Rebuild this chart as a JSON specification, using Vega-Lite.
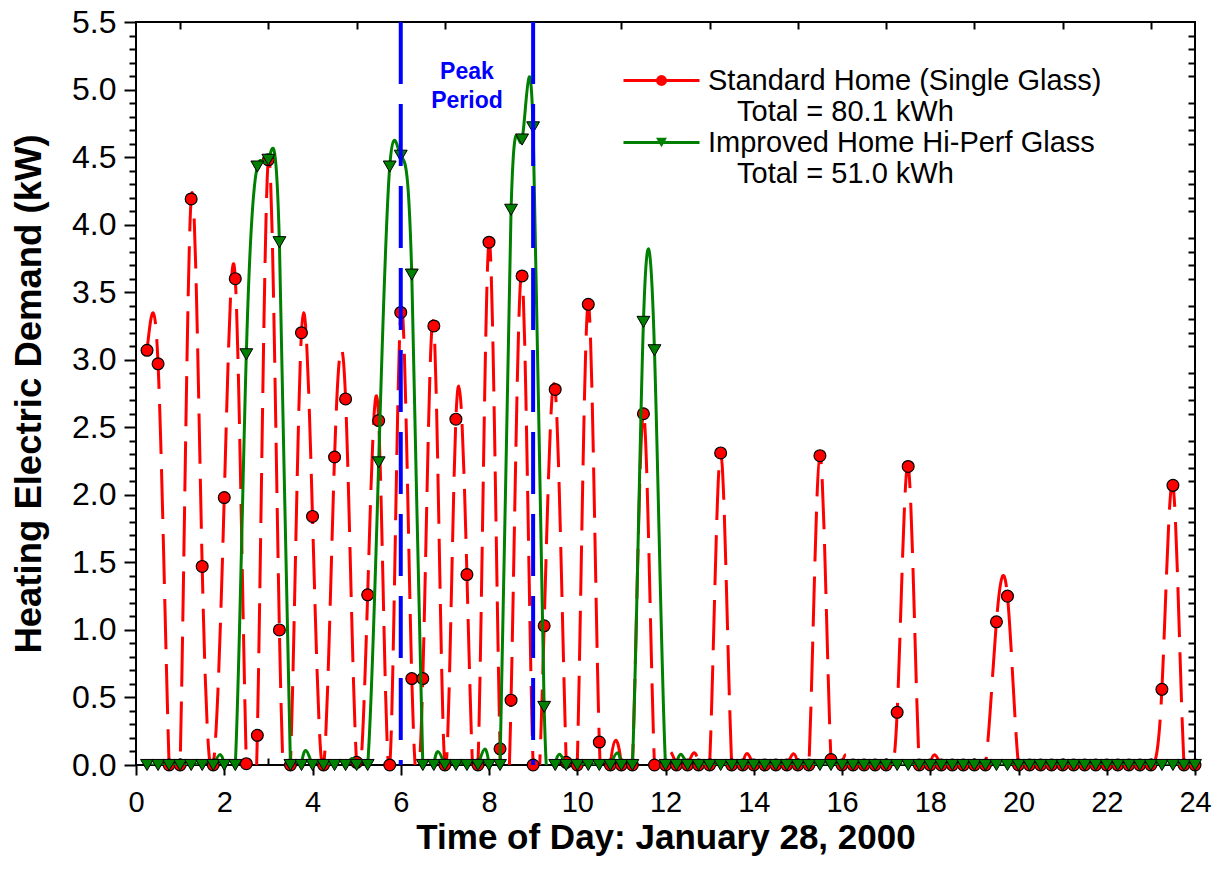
{
  "$schema": "https://vega.github.io/schema/vega-lite/v6.json",
  "width": 1059,
  "height": 743,
  "autosize": {"type": "none"},
  "padding": {"left": 136, "top": 22, "right": 20, "bottom": 114},
  "background": "white",
  "config": {
    "font": "Liberation Sans",
    "view": {"stroke": "black", "strokeWidth": 2},
    "axis": {"grid": false, "domain": false, "tickColor": "black", "tickWidth": 2, "labelColor": "black", "titleColor": "black", "labelFont": "Liberation Sans", "titleFont": "Liberation Sans"}
  },
  "data": {"values": [
    {"t":0.25,"standard":3.07,"improved":0},{"t":0.5,"standard":2.97,"improved":0},{"t":0.75,"standard":0,"improved":0},{"t":1,"standard":0,"improved":0},
    {"t":1.25,"standard":4.19,"improved":0},{"t":1.5,"standard":1.47,"improved":0},{"t":1.75,"standard":0,"improved":0},{"t":2,"standard":1.98,"improved":0},
    {"t":2.25,"standard":3.6,"improved":0},{"t":2.5,"standard":0.01,"improved":3.04},{"t":2.75,"standard":0.22,"improved":4.43},{"t":3,"standard":4.48,"improved":4.48},
    {"t":3.25,"standard":1.0,"improved":3.87},{"t":3.5,"standard":0,"improved":0},{"t":3.75,"standard":3.2,"improved":0},{"t":4,"standard":1.84,"improved":0},
    {"t":4.25,"standard":0,"improved":0},{"t":4.5,"standard":2.28,"improved":0},{"t":4.75,"standard":2.71,"improved":0},{"t":5,"standard":0.02,"improved":0},
    {"t":5.25,"standard":1.26,"improved":0},{"t":5.5,"standard":2.55,"improved":2.24},{"t":5.75,"standard":0,"improved":4.43},{"t":6,"standard":3.35,"improved":4.51},
    {"t":6.25,"standard":0.64,"improved":3.63},{"t":6.5,"standard":0.64,"improved":0},{"t":6.75,"standard":3.25,"improved":0},{"t":7,"standard":0,"improved":0},
    {"t":7.25,"standard":2.56,"improved":0},{"t":7.5,"standard":1.41,"improved":0},{"t":7.75,"standard":0,"improved":0},{"t":8,"standard":3.87,"improved":0},
    {"t":8.25,"standard":0.12,"improved":0},{"t":8.5,"standard":0.48,"improved":4.11},{"t":8.75,"standard":3.62,"improved":4.63},{"t":9,"standard":0,"improved":4.72},
    {"t":9.25,"standard":1.03,"improved":0.43},{"t":9.5,"standard":2.78,"improved":0},{"t":9.75,"standard":0.02,"improved":0},{"t":10,"standard":0,"improved":0},
    {"t":10.25,"standard":3.41,"improved":0},{"t":10.5,"standard":0.17,"improved":0},{"t":10.75,"standard":0,"improved":0},{"t":11,"standard":0,"improved":0},
    {"t":11.25,"standard":0,"improved":0},{"t":11.5,"standard":2.6,"improved":3.28},{"t":11.75,"standard":0,"improved":3.07},{"t":12,"standard":0,"improved":0},
    {"t":12.25,"standard":0,"improved":0},{"t":12.5,"standard":0,"improved":0},{"t":12.75,"standard":0,"improved":0},{"t":13,"standard":0,"improved":0},
    {"t":13.25,"standard":2.31,"improved":0},{"t":13.5,"standard":0,"improved":0},{"t":13.75,"standard":0,"improved":0},{"t":14,"standard":0,"improved":0},
    {"t":14.25,"standard":0,"improved":0},{"t":14.5,"standard":0,"improved":0},{"t":14.75,"standard":0,"improved":0},{"t":15,"standard":0,"improved":0},
    {"t":15.25,"standard":0,"improved":0},{"t":15.5,"standard":2.29,"improved":0},{"t":15.75,"standard":0.04,"improved":0},{"t":16,"standard":0,"improved":0},
    {"t":16.25,"standard":0,"improved":0},{"t":16.5,"standard":0,"improved":0},{"t":16.75,"standard":0,"improved":0},{"t":17,"standard":0,"improved":0},
    {"t":17.25,"standard":0.39,"improved":0},{"t":17.5,"standard":2.21,"improved":0},{"t":17.75,"standard":0,"improved":0},{"t":18,"standard":0,"improved":0},
    {"t":18.25,"standard":0,"improved":0},{"t":18.5,"standard":0,"improved":0},{"t":18.75,"standard":0,"improved":0},{"t":19,"standard":0,"improved":0},
    {"t":19.25,"standard":0,"improved":0},{"t":19.5,"standard":1.06,"improved":0},{"t":19.75,"standard":1.25,"improved":0},{"t":20,"standard":0,"improved":0},
    {"t":20.25,"standard":0,"improved":0},{"t":20.5,"standard":0,"improved":0},{"t":20.75,"standard":0,"improved":0},{"t":21,"standard":0,"improved":0},
    {"t":21.25,"standard":0,"improved":0},{"t":21.5,"standard":0,"improved":0},{"t":21.75,"standard":0,"improved":0},{"t":22,"standard":0,"improved":0},
    {"t":22.25,"standard":0,"improved":0},{"t":22.5,"standard":0,"improved":0},{"t":22.75,"standard":0,"improved":0},{"t":23,"standard":0,"improved":0},
    {"t":23.25,"standard":0.56,"improved":0},{"t":23.5,"standard":2.07,"improved":0},{"t":23.75,"standard":0,"improved":0},{"t":24,"standard":0,"improved":0}
  ]},
  "transform": [{"fold": ["standard", "improved"], "as": ["series", "kw"]}],
  "resolve": {"axis": {"x": "independent", "y": "independent"}},
  "layer": [
    {
      "transform": [{"filter": {"field": "series", "equal": "standard"}}],
      "mark": {"type": "line", "interpolate": "natural", "clip": true, "strokeWidth": 3, "strokeDash": [50, 15]},
      "encoding": {
        "x": {"field": "t", "type": "quantitative", "scale": {"domain": [0, 24], "nice": false, "zero": false},
          "axis": {"orient": "bottom", "values": [0,2,4,6,8,10,12,14,16,18,20,22,24], "tickSize": 10, "labelFontSize": 29, "labelPadding": 13, "labelFlush": false, "labelOverlap": false,
            "title": "Time of Day: January 28, 2000", "titleFontSize": 35, "titleFontWeight": "bold", "titlePadding": 3}},
        "y": {"field": "kw", "type": "quantitative", "scale": {"domain": [0, 5.5], "nice": false},
          "axis": {"orient": "left", "values": [0,0.5,1,1.5,2,2.5,3,3.5,4,4.5,5,5.5], "format": ".1f", "tickSize": 12, "labelFontSize": 32, "labelPadding": 8, "labelFlush": false, "labelOverlap": false,
            "title": "Heating Electric Demand (kW)", "titleFontSize": 36.5, "titleFontWeight": "bold", "titlePadding": 23}},
        "color": {"field": "series", "type": "nominal", "scale": {"domain": ["standard", "improved"], "range": ["#FF0000", "#008000"]},
          "legend": {"orient": "none", "legendX": 511, "legendY": 44, "title": null, "padding": 0, "rowPadding": 1,
            "symbolType": "M-7.25,0H7.25", "symbolSize": 110, "symbolStrokeWidth": 3,
            "labelFont": "Liberation Sans", "labelFontSize": 29, "labelColor": "black", "labelBaseline": "middle", "labelOffset": 32, "labelLimit": 800,
            "labelExpr": "datum.value == 'standard' ? ['Standard Home (Single Glass)', '\\u2800 Total = 80.1 kWh'] : ['Improved Home Hi-Perf Glass', '\\u2800 Total = 51.0 kWh']"}}
      }
    },
    {
      "transform": [{"filter": {"field": "series", "equal": "standard"}}],
      "mark": {"type": "point", "filled": true, "stroke": "black", "strokeWidth": 1.2, "size": 140, "opacity": 1},
      "encoding": {
        "x": {"field": "t", "type": "quantitative",
          "axis": {"orient": "bottom", "values": [1,3,5,7,9,11,13,15,17,19,21,23], "tickSize": -7, "labels": false, "title": null}},
        "y": {"field": "kw", "type": "quantitative",
          "axis": {"orient": "left", "values": [0.1,0.2,0.3,0.4,0.6,0.7,0.8,0.9,1.1,1.2,1.3,1.4,1.6,1.7,1.8,1.9,2.1,2.2,2.3,2.4,2.6,2.7,2.8,2.9,3.1,3.2,3.3,3.4,3.6,3.7,3.8,3.9,4.1,4.2,4.3,4.4,4.6,4.7,4.8,4.9,5.1,5.2,5.3,5.4], "tickSize": 7, "labels": false, "title": null}},
        "shape": {"field": "series", "type": "nominal", "scale": {"range": ["triangle-down", "circle"]},
          "legend": {"orient": "none", "legendX": 511, "legendY": 44, "title": null, "padding": 0, "rowPadding": 1, "symbolSize": 120,
            "values": ["standard", "improved"],
            "symbolStrokeColor": "black", "symbolStrokeWidth": 1,
            "labelFont": "Liberation Sans", "labelFontSize": 29, "labelColor": "transparent", "labelBaseline": "middle", "labelOffset": 32, "labelLimit": 800,
            "labelExpr": "datum.value == 'standard' ? ['Standard Home (Single Glass)', '\\u2800 Total = 80.1 kWh'] : ['Improved Home Hi-Perf Glass', '\\u2800 Total = 51.0 kWh']"}},
        "fill": {"field": "series", "type": "nominal", "scale": {"range": ["#008000", "#FF0000"]}}
      }
    },
    {
      "transform": [{"filter": {"field": "series", "equal": "improved"}}],
      "mark": {"type": "line", "interpolate": "natural", "clip": true, "strokeWidth": 3},
      "encoding": {
        "x": {"field": "t", "type": "quantitative",
          "axis": {"orient": "top", "values": [1,3,5,7,9,11,13,15,17,19,21,23], "tickSize": -7, "labels": false, "title": null}},
        "y": {"field": "kw", "type": "quantitative",
          "axis": {"orient": "right", "values": [0.1,0.2,0.3,0.4,0.6,0.7,0.8,0.9,1.1,1.2,1.3,1.4,1.6,1.7,1.8,1.9,2.1,2.2,2.3,2.4,2.6,2.7,2.8,2.9,3.1,3.2,3.3,3.4,3.6,3.7,3.8,3.9,4.1,4.2,4.3,4.4,4.6,4.7,4.8,4.9,5.1,5.2,5.3,5.4], "tickSize": -7, "labels": false, "title": null}},
        "color": {"field": "series", "type": "nominal"}
      }
    },
    {
      "transform": [{"filter": {"field": "series", "equal": "improved"}}],
      "mark": {"type": "point", "filled": true, "stroke": "black", "strokeWidth": 1, "size": 165, "opacity": 1},
      "encoding": {
        "x": {"field": "t", "type": "quantitative", "axis": null},
        "y": {"field": "kw", "type": "quantitative", "axis": null},
        "shape": {"field": "series", "type": "nominal"},
        "fill": {"field": "series", "type": "nominal"}
      }
    },
    {
      "data": {"values": [{"t": 6}, {"t": 9}]},
      "mark": {"type": "rule", "color": "#0000FF", "strokeWidth": 4, "strokeDash": [62, 20]},
      "encoding": {
        "x": {"field": "t", "type": "quantitative", "axis": null}
      }
    },
    {
      "data": {"values": [{"label": "Peak Period"}]},
      "mark": {"type": "text", "text": ["Peak", "Period"], "color": "#0000FF", "font": "Liberation Sans", "fontWeight": "bold", "fontSize": 23, "lineHeight": 29, "align": "center", "baseline": "top"},
      "encoding": {
        "x": {"datum": 7.5, "type": "quantitative", "axis": null},
        "y": {"datum": 5.21, "type": "quantitative", "axis": null}
      }
    }
  ]
}
